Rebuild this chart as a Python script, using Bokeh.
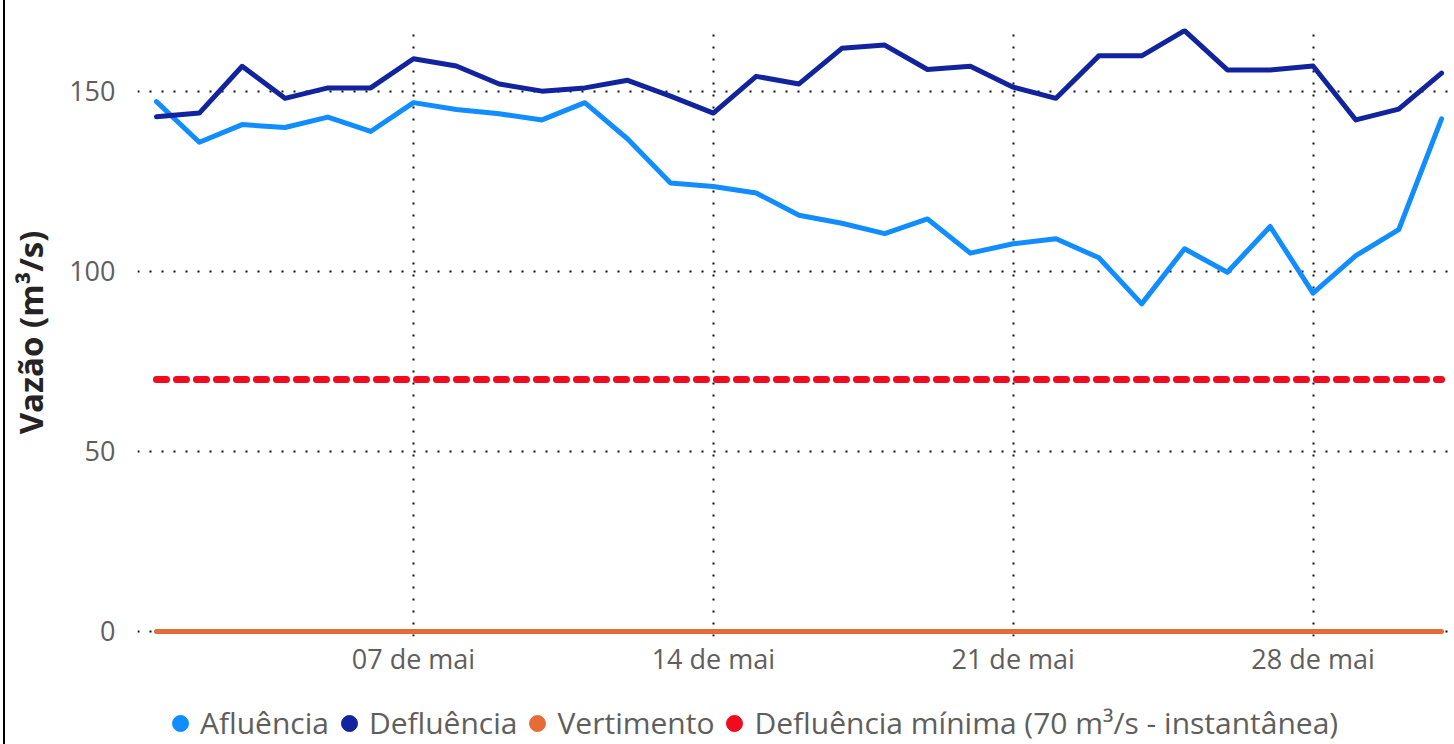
from bokeh.plotting import figure
from bokeh.layouts import column
from bokeh.models import Range1d, FixedTicker, Legend, LegendItem
from bokeh.embed import file_html
from bokeh.resources import INLINE

# ---- data ----
days = [1, 2, 3, 4, 5, 6, 7, 8, 9, 10, 11, 12, 13, 14, 15, 16,
        17, 18, 19, 20, 21, 22, 23, 24, 25, 26, 27, 28, 29, 30, 31]
afluencia = [147.2, 135.9, 140.8, 140.0, 142.9, 138.9, 146.9, 145.0, 143.8, 142.1,
             146.9, 136.8, 124.6, 123.6, 121.8, 115.6, 113.4, 110.5, 114.6, 105.1,
             107.7, 109.1, 103.8, 91.0, 106.3, 99.8, 112.5, 94.0, 104.4, 111.6, 142.4]
defluencia = [143.0, 144.0, 157.0, 148.1, 151.0, 151.0, 159.1, 157.1, 152.1, 150.1,
              151.0, 153.1, 148.7, 144.0, 154.2, 152.1, 162.0, 162.9, 156.1, 157.0,
              151.2, 148.1, 159.9, 159.9, 166.9, 156.0, 156.0, 157.1, 142.1, 145.1, 155.1]
vertimento = [0, 0, 0, 0, 0, 0, 0, 0, 0, 0, 0, 0, 0, 0, 0, 0,
              0, 0, 0, 0, 0, 0, 0, 0, 0, 0, 0, 0, 0, 0, 0]
defluencia_minima = [70, 70, 70, 70, 70, 70, 70, 70, 70, 70, 70, 70, 70, 70, 70, 70,
                     70, 70, 70, 70, 70, 70, 70, 70, 70, 70, 70, 70, 70, 70, 70]
series_names = ["Afluência", "Defluência", "Vertimento",
                "Defluência mínima (70 m³/s - instantânea)"]
x_ticks = [7, 14, 21, 28]
x_tick_labels = ["07 de mai", "14 de mai", "21 de mai", "28 de mai"]
y_ticks = [0, 50, 100, 150]
y_title = "Vazão (m³/s)"

# ---- style ----
C_AFL = "#118DFF"
C_DEF = "#12239E"
C_VER = "#E66C37"
C_MIN = "#F20A1E"
FONT = "Open Sans"
LABEL_COLOR = "#605E5C"
W = 1449
H_MAIN = 700
H_LEG = 44

p = figure(width=W, height=H_MAIN,
           x_range=Range1d(0.557, 31.256), y_range=Range1d(-1.4, 167.5),
           output_backend="svg", toolbar_location=None,
           min_border_left=130, min_border_right=2,
           min_border_top=28, min_border_bottom=H_MAIN - 636)
p.outline_line_color = None
p.background_fill_color = "white"
p.border_fill_color = "white"

# grids
p.xgrid.ticker = FixedTicker(ticks=x_ticks)
p.ygrid.ticker = FixedTicker(ticks=y_ticks)
for g in (p.xgrid, p.ygrid):
    g.grid_line_color = "#111111"
    g.grid_line_width = 2
    g.grid_line_dash = "2 10"

# axes
p.xaxis.ticker = FixedTicker(ticks=x_ticks)
p.xaxis.major_label_overrides = dict(zip(x_ticks, x_tick_labels))
p.yaxis.ticker = FixedTicker(ticks=y_ticks)
for ax in (p.xaxis, p.yaxis):
    ax.axis_line_color = None
    ax.major_tick_line_color = None
    ax.minor_tick_line_color = None
    ax.major_tick_out = 0
    ax.major_label_text_font = FONT
    ax.major_label_text_font_size = "27px"
    ax.major_label_text_color = LABEL_COLOR
p.xaxis.major_label_standoff = 3
p.yaxis.major_label_standoff = 22
p.yaxis.axis_label = y_title
p.yaxis.axis_label_text_font = FONT
p.yaxis.axis_label_text_font_size = "33px"
p.yaxis.axis_label_text_font_style = "bold"
p.yaxis.axis_label_text_color = "#252423"
p.yaxis.axis_label_standoff = 13

# lines
p.line(days, defluencia_minima, line_color=C_MIN, line_width=7,
       line_dash="10 10", line_cap="round")
p.line(days, vertimento, line_color=C_VER, line_width=5, line_cap="round")
p.line(days, afluencia, line_color=C_AFL, line_width=5,
       line_cap="round", line_join="round")
p.line(days, defluencia, line_color=C_DEF, line_width=5,
       line_cap="round", line_join="round")

# ---- legend strip (own small figure so nothing is clipped) ----
lf = figure(width=W, height=H_LEG, x_range=Range1d(0, 1), y_range=Range1d(0, 1),
            output_backend="svg", toolbar_location=None,
            x_axis_location=None, y_axis_location=None,
            min_border_left=0, min_border_right=0, min_border_top=0, min_border_bottom=0)
lf.outline_line_color = None
lf.grid.visible = False
leg_r = []
for vals, col in ((afluencia, C_AFL), (defluencia, C_DEF),
                  (vertimento, C_VER), (defluencia_minima, C_MIN)):
    r = lf.scatter(days, vals, size=1, fill_color=col, line_color=col, visible=False)
    leg_r.append(r)

legend = Legend(items=[LegendItem(label=n, renderers=[r]) for n, r in zip(series_names, leg_r)],
                orientation="horizontal", location=(23, 1),
                glyph_width=40, glyph_height=40, label_standoff=-8, spacing=0,
                padding=0, margin=0, border_line_alpha=0, background_fill_alpha=0,
                label_text_font=FONT, label_text_font_size="30px",
                label_text_color=LABEL_COLOR, click_policy="none")
lf.add_layout(legend, "center")

layout = column(p, lf, spacing=0)
layout.styles = {"margin-left": "3px", "border-left": "2px solid black"}

open("out.html", "w").write(file_html(layout, INLINE))
